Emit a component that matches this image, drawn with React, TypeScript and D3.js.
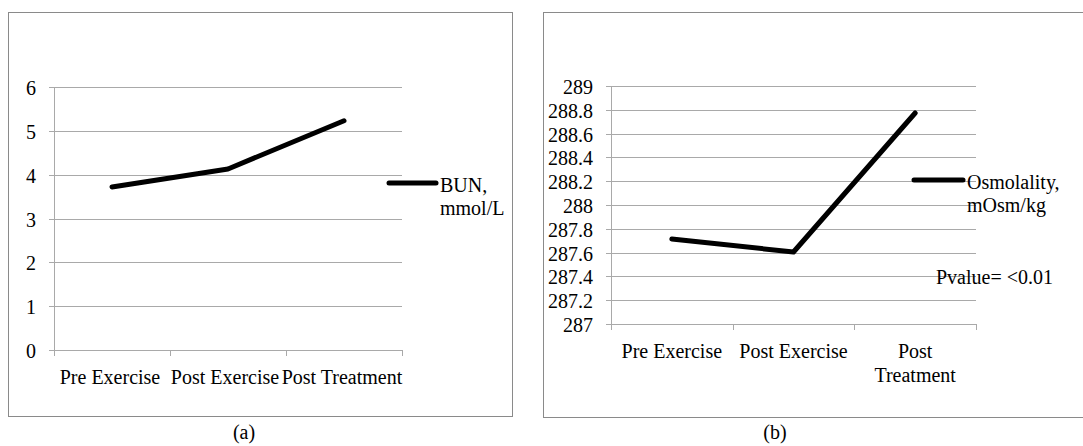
import React, { useEffect, useRef } from 'react';
import * as d3 from 'd3';

// chart (a) - BUN
const categoriesA = ['Pre Exercise', 'Post Exercise', 'Post Treatment'];
const labelLinesA = [['Pre Exercise'], ['Post Exercise'], ['Post Treatment']];
const bunValues = [3.72, 4.13, 5.23];
const yTicksA = [0, 1, 2, 3, 4, 5, 6];
const legendA = ['BUN,', 'mmol/L'];

// chart (b) - osmolality
const categoriesB = ['Pre Exercise', 'Post Exercise', 'Post Treatment'];
const labelLinesB = [['Pre Exercise'], ['Post Exercise'], ['Post', 'Treatment']];
const osmValues = [287.714, 287.605, 288.773];
const yTicksB = [287, 287.2, 287.4, 287.6, 287.8, 288, 288.2, 288.4, 288.6, 288.8, 289];
const legendB = ['Osmolality,', 'mOsm/kg'];
const pvalueText = 'Pvalue= <0.01';

const FONT = "'Liberation Serif', 'Times New Roman', serif";
const FS = 20;
const GRID = '#a9a9a9';
const FRAME = '#8a8a8a';

function drawPanel(svg, cfg) {
  const g = svg.append('g');

  // outer frame
  g.append('rect')
    .attr('x', cfg.frame[0] + 0.5).attr('y', cfg.frame[1] + 0.5)
    .attr('width', cfg.frame[2]).attr('height', cfg.frame[3])
    .attr('fill', 'none').attr('stroke', FRAME).attr('stroke-width', 1);

  const x = d3.scaleBand().domain(cfg.categories).range([cfg.left, cfg.right]);
  const y = d3.scaleLinear().domain(cfg.domain).range([cfg.bottom, cfg.top]);

  // gridlines + y ticks
  cfg.ticks.forEach(t => {
    const yy = Math.round(y(t)) + 0.5;
    g.append('line')
      .attr('x1', cfg.left - 5).attr('x2', cfg.right)
      .attr('y1', yy).attr('y2', yy)
      .attr('stroke', GRID).attr('stroke-width', 1);
    g.append('text')
      .attr('x', cfg.left - 18).attr('y', yy + 7)
      .attr('text-anchor', 'end')
      .attr('font-family', FONT).attr('font-size', FS)
      .text(String(+t.toFixed(1)));
  });

  // y axis line
  g.append('line')
    .attr('x1', cfg.left + 0.5).attr('x2', cfg.left + 0.5)
    .attr('y1', y(cfg.domain[1])).attr('y2', cfg.bottom + 0.5)
    .attr('stroke', GRID);

  // x ticks at band edges
  const edges = cfg.categories.map(c => x(c)).concat([cfg.right]);
  edges.forEach(e => {
    g.append('line')
      .attr('x1', Math.round(e) + 0.5).attr('x2', Math.round(e) + 0.5)
      .attr('y1', cfg.bottom).attr('y2', cfg.bottom + 6)
      .attr('stroke', GRID);
  });

  // x labels
  cfg.categories.forEach((c, i) => {
    const t = g.append('text')
      .attr('text-anchor', 'middle')
      .attr('font-family', FONT).attr('font-size', FS);
    cfg.labelLines[i].forEach((ln, j) => {
      t.append('tspan')
        .attr('x', x(c) + x.bandwidth() / 2 + (cfg.labelShift ? cfg.labelShift[i] : 0))
        .attr('y', cfg.bottom + 34 + j * 24)
        .text(ln);
    });
  });

  // data line
  const line = d3.line()
    .x((d, i) => x(cfg.categories[i]) + x.bandwidth() / 2)
    .y(d => y(d));
  g.append('path')
    .datum(cfg.values)
    .attr('d', line)
    .attr('fill', 'none').attr('stroke', '#000')
    .attr('stroke-width', 5)
    .attr('stroke-linecap', 'round').attr('stroke-linejoin', 'round');

  // legend
  g.append('line')
    .attr('x1', cfg.legend.x1).attr('x2', cfg.legend.x2)
    .attr('y1', cfg.legend.y).attr('y2', cfg.legend.y)
    .attr('stroke', '#000').attr('stroke-width', 5).attr('stroke-linecap', 'round');
  const lt = g.append('text').attr('font-family', FONT).attr('font-size', FS);
  cfg.legendText.forEach((ln, j) => {
    lt.append('tspan')
      .attr('x', cfg.legend.x2 + 4)
      .attr('y', cfg.legend.y + 9 + j * 23)
      .text(ln);
  });

  // caption
  g.append('text')
    .attr('x', cfg.caption[0]).attr('y', cfg.caption[1])
    .attr('text-anchor', 'middle')
    .attr('font-family', FONT).attr('font-size', FS)
    .text(cfg.captionText);

  return g;
}

export default function App() {
  const ref = useRef(null);

  useEffect(() => {
    const svg = d3.select(ref.current);
    svg.selectAll('*').remove();

    drawPanel(svg, {
      frame: [8, 12, 504, 404],
      categories: categoriesA,
      labelLines: labelLinesA,
      labelShift: [-2, -3, -2],
      values: bunValues,
      domain: [0, 6],
      ticks: yTicksA,
      left: 54, right: 402, top: 87, bottom: 350,
      legend: { x1: 389, x2: 436, y: 183 },
      legendText: legendA,
      caption: [244, 439],
      captionText: '(a)',
    });

    const gb = drawPanel(svg, {
      frame: [543, 12, 560, 405],
      categories: categoriesB,
      labelLines: labelLinesB,
      values: osmValues,
      domain: [287, 289],
      ticks: yTicksB,
      left: 611, right: 976, top: 86, bottom: 324,
      legend: { x1: 914, x2: 963, y: 180 },
      legendText: legendB,
      caption: [775, 439],
      captionText: '(b)',
    });

    gb.append('text')
      .attr('x', 936).attr('y', 284)
      .attr('font-family', FONT).attr('font-size', FS)
      .text(pvalueText);
  }, []);

  return (
    <div style={{ position: 'absolute', left: 0, top: 0 }}>
      <svg ref={ref} width={1083} height={446} style={{ display: 'block', background: '#fff' }} />
    </div>
  );
}
